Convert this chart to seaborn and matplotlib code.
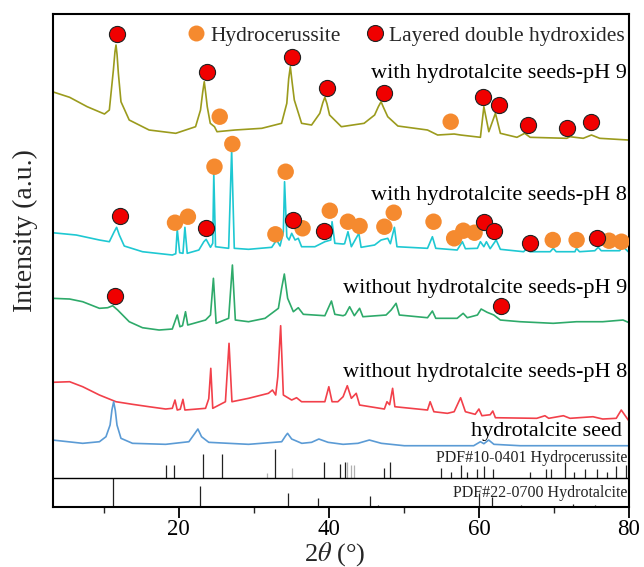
import matplotlib
matplotlib.use("Agg")
import matplotlib.pyplot as plt
import matplotlib.transforms as mtransforms
from matplotlib.lines import Line2D
from matplotlib.ticker import MultipleLocator
import pandas as pd
import seaborn as sns

# ---------------- data (2theta in degrees, intensity in a.u. incl. offsets) ----------------
pattern_names = [
    "with hydrotalcite seeds-pH 9",
    "with hydrotalcite seeds-pH 8",
    "without hydrotalcite seeds-pH 9",
    "without hydrotalcite seeds-pH 8",
    "hydrotalcite seed",
]

tt_seed_ph9 = [3.16, 5.46, 7.8, 10.1, 10.75, 11.29, 11.5, 11.64, 11.78, 11.95, 12.3, 13.4, 16.05, 19.6,
               22.24, 22.9, 23.2, 23.4, 23.6, 23.8, 24.2, 24.76, 25.1, 27.5, 31.07, 33.7, 34.4, 34.65,
               34.87, 35.1, 35.4, 36.37, 37.7, 38.8, 39.2, 39.47, 39.75, 40.1, 41.67, 44.7, 46.1, 46.6,
               46.96, 47.3, 47.85, 49.2, 53.15, 54.5, 56.7, 57.56, 60.2, 60.66, 61.32, 62.2, 62.86,
               65.07, 66.1, 66.83, 71.7, 72.14, 73.9, 75.0, 76.1, 79.9]
int_seed_ph9 = [415.0, 409.4, 400, 392.7, 396.7, 436.7, 455, 461.7, 452, 433.7, 405, 386.7, 376.7, 373.4,
                380, 396.7, 415, 425, 413, 400, 383.4, 380, 375, 376.7, 378.4, 383.4, 403.4, 428,
                440, 425, 406.7, 383.4, 381.7, 393.4, 404, 409.4, 403, 391.7, 380, 383.4, 391.7, 400,
                405, 399, 390, 380.7, 376.7, 371.7, 372.7, 371.7, 369.4, 400, 375, 393.4, 373.4,
                369.4, 373.4, 369.4, 368.4, 370, 368.4, 371.7, 368.4, 366.7]

tt_seed_ph8 = [3.16, 6.34, 9.43, 10.75, 11.4, 11.72, 12.08, 12.74, 15.17, 19.14, 19.6, 19.8, 20.12, 20.56,
               20.82, 21.13, 22.68, 23.34, 23.65, 24.23, 24.53, 24.67, 24.9, 26.65, 27.05, 27.4, 29.3,
               32.39, 33.05, 33.5, 33.94, 34.1, 34.4, 34.7, 35.05, 35.5, 35.93, 36.37, 38.14, 39.47, 40.26,
               40.43, 40.8, 41.9, 42.1, 42.55, 43.0, 44.0, 44.3, 46.1, 46.96, 47.85, 48.2, 48.74, 49.08,
               53.15, 53.8, 54.25, 57.1, 57.8, 58.2, 59.8, 60.2, 60.66, 61.0, 61.5, 62.3, 62.86, 65.96,
               66.4, 66.8, 69.5, 69.9, 70.3, 72.8, 73.0, 73.4, 75.45, 75.9, 76.3, 78.75, 79.2, 79.9]
int_seed_ph8 = [274, 271.7, 266.7, 265, 275, 279.4, 271.7, 260.7, 255, 251.7, 253, 277.4, 254, 253.4,
                279.4, 253.4, 256.7, 265, 267.4, 259.4, 263.4, 333.4, 260, 258.4, 356.7, 258.4, 257.4,
                259.4, 266.7, 260.7, 275, 325, 270, 266.7, 273.4, 266.7, 268.4, 260, 260, 265, 266.7,
                285, 263.4, 262.7, 263, 275, 260, 273.4, 259.4, 261.7, 266.7, 268.4, 263, 279.4, 260,
                258.4, 270, 258.4, 256.7, 265, 258, 258.4, 265, 260, 265, 258, 266.7, 257.4, 255,
                258.4, 255, 255, 258.4, 255, 255, 258.4, 255, 256, 259.4, 256, 256, 260, 255]

tt_noseed_ph9 = [3.16, 5.46, 7.2, 9.43, 10.53, 11.2, 11.86, 13.4, 15.17, 17.38, 19.14, 19.8, 20.16, 20.5,
                 20.9, 21.2, 23.57, 24.23, 24.62, 24.98, 26.65, 27.15, 27.54, 29.3, 31.5, 33.28, 33.7,
                 34.07, 34.51, 35.27, 35.93, 36.6, 39.47, 40.35, 40.8, 41.9, 42.2, 42.77, 43.4, 44.1,
                 44.54, 47.63, 48.3, 48.96, 49.4, 53.15, 53.8, 54.25, 57.1, 57.9, 58.45, 59.8, 60.3, 61.1,
                 61.99, 62.86, 65.5, 69.9, 73.0, 76.5, 79.2, 79.9]
int_noseed_ph9 = [208.4, 207.7, 205, 198.4, 199, 201, 196.7, 185, 179, 176.7, 177.7, 191.7, 180, 181,
                  195, 181.7, 186.7, 191.7, 228.4, 183.4, 188.4, 241.7, 186.7, 185, 188.4, 198.4, 218,
                  232.7, 208.4, 195, 199, 192.4, 191, 205.7, 192.4, 191, 192, 200, 191, 198.4,
                  190, 191.7, 196.7, 203.4, 191.7, 189, 195.7, 188.4, 188.4, 193.4, 189, 191.7, 197.7, 194.4,
                  191.7, 186.7, 185, 183.4, 185, 185, 186.7, 184.4]

tt_noseed_ph8 = [3.16, 5.46, 7.2, 9.43, 11.64, 13.84, 16.05, 18.26, 19.14, 19.5, 19.8, 20.2, 20.56, 20.82,
                 23.57, 24.0, 24.27, 24.53, 26.22, 26.7, 27.09, 29.3, 31.95, 32.49, 32.92, 33.2, 33.58,
                 33.94, 35.05, 35.7, 36.37, 39.47, 40.0, 40.43, 41.2, 41.9, 42.46, 43.0, 43.65, 44.1, 47.4,
                 47.75, 48.1, 48.5, 48.8, 53.15, 53.5, 54.0, 55.8, 56.7, 57.56, 58.2, 59.5, 60.0, 60.4,
                 61.5, 61.85, 62.2, 67.7, 68.8, 69.3, 71.26, 72.14, 75.2, 76.5, 78.3, 78.97, 79.9]
int_noseed_ph8 = [124.4, 125, 120, 111.7, 105, 102.4, 100, 97.7, 98.4, 106.7, 96.7, 97.5, 107.4, 96.7,
                  98.4, 108, 138.4, 98.4, 105, 163.4, 105, 108.4, 113.4, 116.7, 111.7, 130, 181,
                  111.7, 106.7, 109, 105, 105, 120, 105, 105, 110, 121, 108.4, 113.4, 101.7, 97.7,
                  105, 102, 118.4, 100, 96.7, 105, 95, 93.4, 95, 109, 95, 92.4, 97.7, 91,
                  92, 95.7, 89, 88.4, 91, 88.4, 91, 88.4, 90, 87.7, 88.4, 96.7, 86.7]

tt_ht_seed = [3.16, 7.2, 9.43, 10.3, 10.85, 11.1, 11.33, 11.55, 11.77, 12.3, 13.84, 18.26, 21.35, 22.15,
              22.55, 23.04, 24.0, 29.3, 33.72, 34.25, 34.5, 35.05, 36.4, 37.7, 38.67, 39.9, 41.9, 43.88,
              45.4, 47.0, 50.06, 59.3, 60.2, 60.66, 61.3, 62.0, 65.5, 79.9]
int_ht_seed = [66.7, 63.4, 65, 70, 81.7, 97, 105, 96, 81.7, 68.4, 63.4, 62.4, 65, 73.4,
               77.7, 70, 64.4, 62.4, 65, 71, 73.4, 67.7, 63.4, 64.4, 67.7, 64.4, 62.4, 63.4,
               66.7, 63.4, 61, 61, 65, 63, 66.7, 62.4, 61, 61]

# reference patterns (stick positions and heights)
pdf_hc_pos = [18.35, 19.37, 23.25, 25.77, 32.84, 39.33, 41.54, 42.2, 47.4, 48.16, 55.0, 56.33, 57.56,
              58.45, 59.68, 60.66, 61.85, 66.83, 68.95, 69.58, 71.47, 72.72, 74.12, 75.67, 77.09, 78.32, 79.6]
pdf_hc_h = [12.7, 12.7, 23.4, 23.4, 28.7, 16, 13.7, 16, 9.3, 15.3, 9.3, 6, 13, 6, 9, 12, 9, 6, 9, 9, 16,
            6, 9, 9, 6, 12, 13]
pdf_hc_faint_pos = [31.78, 35.09, 42.45, 43.0, 43.3]
pdf_hc_faint_h = [5, 9.4, 16, 13, 13]
pdf_ht_pos = [11.29, 22.8, 34.5, 38.6, 45.5, 46.5, 60.0, 61.7, 65.6, 72.6, 75.5]
pdf_ht_h = [29, 21, 13.4, 8.4, 10.7, 1.7, 14, 10, 2, 3, 2]

# phase markers
ldh_x = [11.77, 23.78, 35.05, 39.7, 47.4, 60.53, 62.65, 66.5, 71.7, 74.88,
         12.17, 23.57, 35.17, 39.37, 60.66, 62.07, 66.75, 75.8,
         11.51, 62.95]
ldh_y = [472.7, 435, 449.4, 419, 414, 409.4, 401.7, 381.7, 378.4, 384.4,
         290.7, 278.4, 286.7, 276, 285, 276, 263.4, 269,
         211, 201]
hc_x = [25.46, 56.24,
        19.5, 21.22, 24.76, 27.14, 32.88, 34.25, 36.5, 40.13, 42.55, 44.1, 47.4, 48.65, 53.95,
        56.7, 57.92, 59.42, 69.84, 73.02, 77.35, 79.0]
hc_y = [390, 385,
        284, 290, 340, 362.7, 272.4, 335, 278.4, 296, 285, 280.7, 280, 294, 285,
        268.4, 276, 274, 266.7, 266.7, 266, 265]

label_y = [433, 311.7, 218.7, 134.4, 75.7]
pdf_labels = ["PDF#10-0401 Hydrocerussite", "PDF#22-0700 Hydrotalcite"]
pdf_label_y = [48.4, 13.4]
panel_split = 29

colors = ["#9b9b1d", "#1ec8d2", "#2eaa6a", "#f2404a", "#5b9bd5"]

# ---------------- build table ----------------
tts = [tt_seed_ph9, tt_seed_ph8, tt_noseed_ph9, tt_noseed_ph8, tt_ht_seed]
ints = [int_seed_ph9, int_seed_ph8, int_noseed_ph9, int_noseed_ph8, int_ht_seed]
frames = []
for name, t, i in zip(pattern_names, tts, ints):
    frames.append(pd.DataFrame({"two_theta": t, "intensity": i, "pattern": name}))
df = pd.concat(frames, ignore_index=True)

# ---------------- style ----------------
sns.set_theme(style="ticks")
plt.rcParams["font.family"] = ["Liberation Serif", "DejaVu Serif"]
plt.rcParams["mathtext.fontset"] = "stix"

fig = plt.figure(figsize=(6.44, 5.67), dpi=100)
ax = fig.add_axes([0.0818, 0.1063, 0.8949, 0.8690])

sns.lineplot(data=df, x="two_theta", y="intensity", hue="pattern",
             palette=dict(zip(pattern_names, colors)), estimator=None, sort=False,
             legend=False, linewidth=1.2, ax=ax)

# reference sticks
ax.vlines(pdf_hc_faint_pos, panel_split, [panel_split + h for h in pdf_hc_faint_h],
          colors="#b0b0b0", linewidth=0.9)
ax.vlines(pdf_hc_pos, panel_split, [panel_split + h for h in pdf_hc_h],
          colors="#222222", linewidth=0.9)
ax.vlines(pdf_ht_pos, 0, pdf_ht_h, colors="#222222", linewidth=0.9)
ax.axhline(panel_split, color="black", linewidth=1.0)

# phase markers
sns.scatterplot(x=hc_x, y=hc_y, color="#f58a2f", s=140, edgecolor="none", ax=ax, zorder=3)
sns.scatterplot(x=ldh_x, y=ldh_y, color="#f00000", s=135, edgecolor="#222222",
                linewidth=0.8, ax=ax, zorder=4)

ax.set_xlim(3.2, 80)
ax.set_ylim(0, 492.7)

# labels
trans = mtransforms.blended_transform_factory(ax.transAxes, ax.transData)
for name, y in zip(pattern_names, label_y):
    xr = 0.9873 if name == "hydrotalcite seed" else 0.9965
    ax.text(xr, y, name, transform=trans, ha="right", va="center", fontsize=16, color="black")
for lab, y in zip(pdf_labels, pdf_label_y):
    ax.text(0.9965, y, lab, transform=trans, ha="right", va="center", fontsize=11.5, color="#222222")

handles = [Line2D([], [], marker="o", linestyle="none", markersize=11.5, markerfacecolor="#f58a2f",
                  markeredgecolor="none"),
           Line2D([], [], marker="o", linestyle="none", markersize=11.5, markerfacecolor="#f00000",
                  markeredgecolor="#222222", markeredgewidth=0.8)]
ax.legend(handles, ["Hydrocerussite", "Layered double hydroxides"], ncol=2, loc="upper right",
          bbox_to_anchor=(1.0, 0.985), frameon=False, fontsize=15.5, borderaxespad=0.0, borderpad=0.2,
          handletextpad=0.15, columnspacing=1.1, handlelength=1.0)

# axes
ax.set_yticks([])
ax.xaxis.set_major_locator(MultipleLocator(20))
ax.xaxis.set_minor_locator(MultipleLocator(10))
ax.tick_params(axis="x", which="major", direction="out", length=8, width=1.3, labelsize=16.5, pad=1,
               colors="black", bottom=True, top=False)
ax.tick_params(axis="x", which="minor", direction="out", length=4, width=1.0, bottom=True, top=False)
for s in ax.spines.values():
    s.set_visible(True)
    s.set_color("black")
    s.set_linewidth(1.5)

ax.set_xlabel(r"2$\theta$ (°)", fontsize=19)
ax.xaxis.label.set_va("center")
ax.xaxis.set_label_coords(0.49, -0.096)
ax.set_ylabel("Intensity (a.u.)", fontsize=20)
ax.yaxis.label.set_va("center")
ax.yaxis.set_label_coords(-0.048, 0.5596)

fig.savefig("out.png", dpi=100)
